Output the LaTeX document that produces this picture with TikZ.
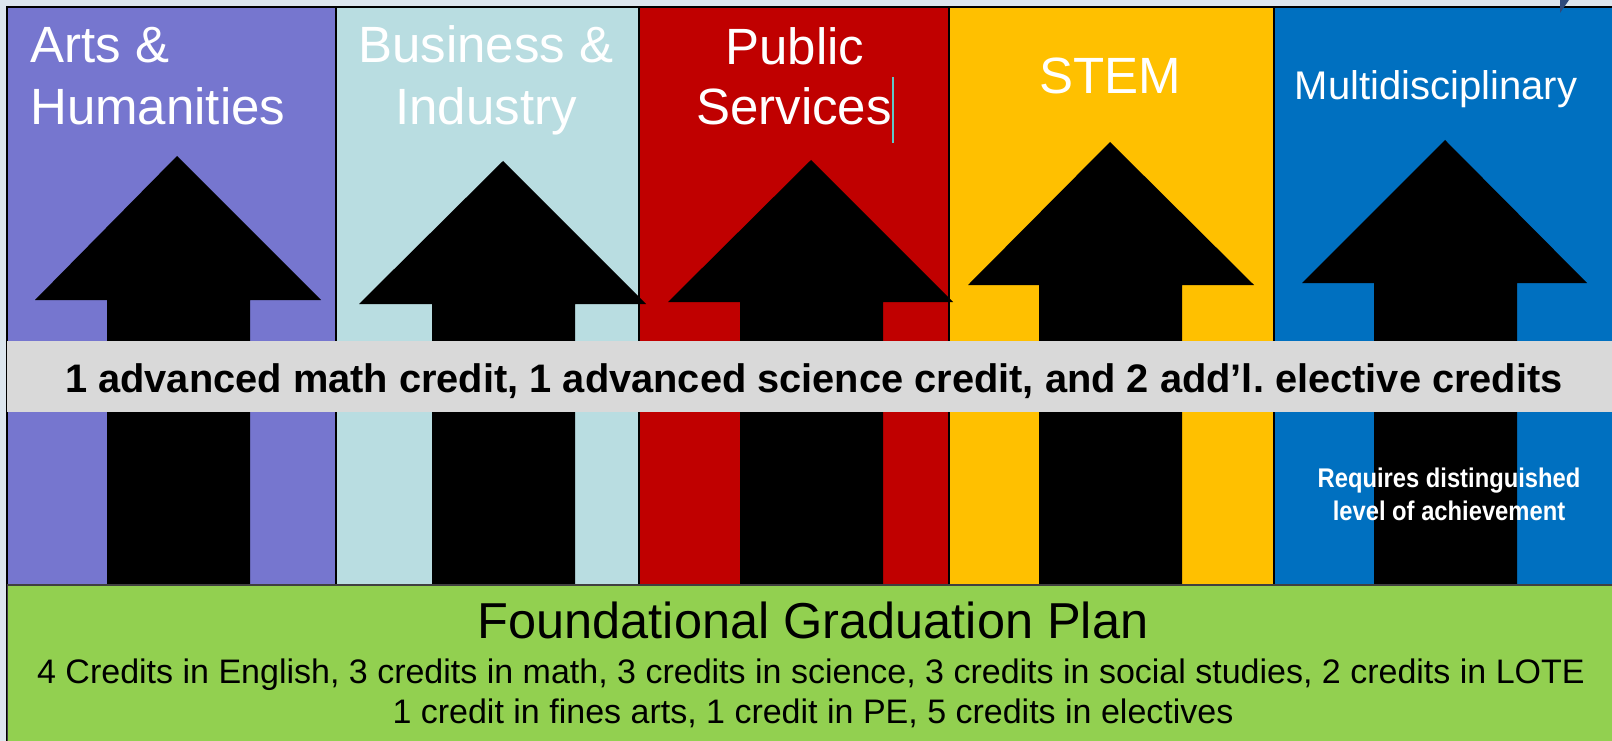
\documentclass[tikz,border=0pt]{standalone}
\usepackage{fontspec}
\setmainfont{Liberation Sans}
\frenchspacing
\definecolor{bgpale}{HTML}{DDE6EE}
\definecolor{artsc}{HTML}{7676CF}
\definecolor{busc}{HTML}{B9DDE1}
\definecolor{pubc}{HTML}{C00000}
\definecolor{stemc}{HTML}{FFC000}
\definecolor{multc}{HTML}{0070C0}
\definecolor{bandc}{HTML}{D9D9D9}
\definecolor{greenc}{HTML}{92D050}
\definecolor{cursorc}{HTML}{5FC7C7}
\definecolor{wedgec}{HTML}{2E4A7C}
\tikzset{
  colbox/.style={draw=none},
  sepline/.style={draw=black, line width=2pt},
  bigarrow/.style={fill=black},
  ttl/.style={text=white, inner sep=0pt, anchor=base, font=\fontsize{51}{51}\selectfont},
  ttlw/.style={ttl, anchor=base west},
  multittl/.style={ttl, font=\fontsize{40}{40}\selectfont},
  bandtxt/.style={text=black, inner sep=0pt, anchor=base, font=\fontsize{39.8}{40}\selectfont\bfseries},
  reqtxt/.style={text=white, inner sep=0pt, anchor=base, font=\fontsize{27}{27}\selectfont\bfseries},
  fndtitle/.style={text=black, inner sep=0pt, anchor=base, font=\fontsize{50.5}{50}\selectfont},
  fndtxt/.style={text=black, inner sep=0pt, anchor=base, font=\fontsize{34}{34}\selectfont},
}
\begin{document}
\begin{tikzpicture}[x=1pt, y=-1pt]
\useasboundingbox (0,0) rectangle (1612,741);
% background
\fill[bgpale] (0,0) rectangle (1612,741);
% columns
\fill[artsc] (7,7) rectangle (337,585);
\fill[busc] (337,7) rectangle (639,585);
\fill[pubc] (639,7) rectangle (949,585);
\fill[stemc] (949,7) rectangle (1274,585);
\fill[multc] (1274,7) rectangle (1612,585);
% frame and separators
\draw[sepline] (1612,7) -- (7,7) -- (7,741);
\draw[sepline] (336,7) -- (336,585);
\draw[sepline] (638.5,7) -- (638.5,585);
\draw[sepline] (948.5,7) -- (948.5,585);
\draw[sepline] (1273.5,7) -- (1273.5,585);
% top-right wedge
\fill[wedgec] (1560,0) -- (1569,0) -- (1560,13) -- cycle;
% arrows
\fill[bigarrow] (177,156) -- (321,300) -- (250,300) -- (250,586) -- (107,586) -- (107,300) -- (35,300) -- cycle;
\fill[bigarrow] (503,161) -- (646,304) -- (575,304) -- (575,586) -- (432,586) -- (432,304) -- (359,304) -- cycle;
\fill[bigarrow] (811,160) -- (953,302) -- (883,302) -- (883,586) -- (740,586) -- (740,302) -- (668,302) -- cycle;
\fill[bigarrow] (1110,142) -- (1254,285) -- (1182,285) -- (1182,586) -- (1039,586) -- (1039,285) -- (968,285) -- cycle;
\fill[bigarrow] (1445,140) -- (1587,283) -- (1517,283) -- (1517,586) -- (1374,586) -- (1374,283) -- (1302,283) -- cycle;
% grey band
\fill[bandc] (7,341) rectangle (1612,412);
% green box
\fill[greenc] (7,585) rectangle (1612,741);
\draw[black!75, line width=1.5pt] (7,585) -- (1612,585);
\draw[black!75, line width=1.5pt] (7.5,585) -- (7.5,741);
% column titles
\node[ttlw] (arts1) at (30,63) {Arts \&};
\node[ttlw] (arts2) at (30,125) {Humanities};
\node[ttl] (bus1) at (486,63) {Business \&};
\node[ttl] (bus2) at (486,125) {Industry};
\node[ttl] (pub1) at (795,65) {Public};
\node[ttl] (pub2) at (794,125) {Services};
\coordinate (curtop) at (893,77);
\coordinate (curbot) at (893,143);
\draw[cursorc, line width=1.5pt] (curtop) -- (curbot);
\node[ttl] (stem) at (1110,94) {STEM};
\node[multittl] (multi) at (1436,100) {Multidisciplinary};
% band text
\node[bandtxt] (band) at (814,392) {1 advanced math credit, 1 advanced science credit, and 2 add’l. elective credits};
% requirement note
\node[reqtxt] (req1) at (1449,487) {\scalebox{0.88}[1]{Requires distinguished}};
\node[reqtxt] (req2) at (1449,520) {\scalebox{0.88}[1]{level of achievement}};
% foundation
\node[fndtitle] (fnd) at (813,638) {Foundational Graduation Plan};
\node[fndtxt] (fnd1) at (811,683) {4 Credits in English, 3 credits in math, 3 credits in science, 3 credits in social studies, 2 credits in LOTE};
\node[fndtxt] (fnd2) at (813,723) {1 credit in fines arts, 1 credit in PE, 5 credits in electives};
\end{tikzpicture}
\end{document}
